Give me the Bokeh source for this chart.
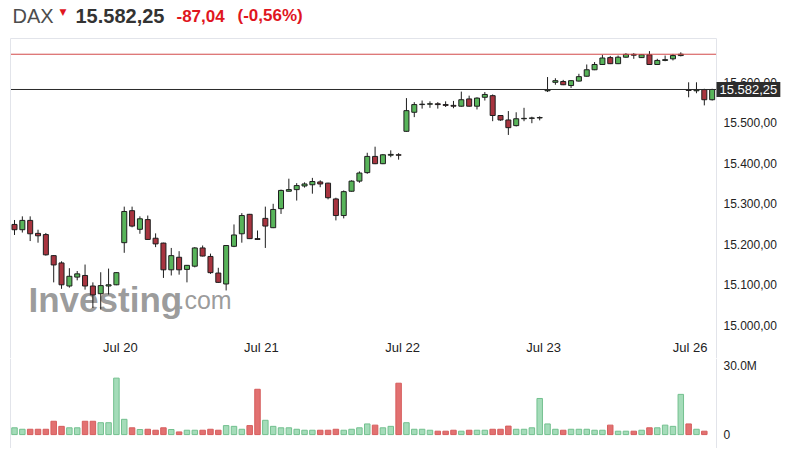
from bokeh.plotting import figure
from bokeh.models import Range1d, FixedTicker, Label, ColumnDataSource, LinearAxis
from bokeh.layouts import column
from bokeh.embed import file_html
from bokeh.resources import INLINE

# ---------------- data (30-minute DAX candles) ----------------
opens = [15249, 15236, 15259, 15227, 15224, 15172, 15154, 15097, 15119, 15123,
         15097, 15078, 15097, 15100, 15204, 15283, 15237, 15261, 15215, 15203,
         15137, 15168, 15138, 15146, 15191, 15170, 15129, 15102, 15195, 15226,
         15274, 15214, 15264, 15241, 15288, 15331, 15335, 15344, 15347, 15354,
         15351, 15312, 15271, 15331, 15356, 15377, 15417, 15399, 15420, 15421,
         15479, 15526, 15545, 15546, 15547, 15545, 15543, 15541, 15559, 15541,
         15563, 15567, 15518, 15507, 15493, 15510, 15511, 15512, 15579, 15600,
         15602, 15592, 15603, 15615, 15631, 15644, 15661, 15646, 15662, 15669,
         15661, 15668, 15644, 15654, 15658, 15666, 15581, 15579, 15582, 15557]
highs = [15260, 15269, 15269, 15236, 15228, 15173, 15158, 15141, 15134, 15150,
         15106, 15131, 15140, 15131, 15293, 15293, 15269, 15271, 15227, 15204,
         15191, 15183, 15149, 15193, 15197, 15177, 15142, 15198, 15249, 15277,
         15275, 15234, 15293, 15300, 15335, 15362, 15351, 15353, 15364, 15358,
         15352, 15315, 15333, 15358, 15380, 15426, 15441, 15423, 15432, 15425,
         15561, 15551, 15555, 15553, 15551, 15553, 15554, 15577, 15567, 15563,
         15576, 15570, 15519, 15529, 15526, 15537, 15515, 15516, 15613, 15610,
         15606, 15605, 15621, 15644, 15650, 15668, 15665, 15666, 15672, 15672,
         15669, 15677, 15658, 15666, 15670, 15674, 15600, 15600, 15584, 15584]
lows = [15223, 15229, 15208, 15204, 15172, 15106, 15090, 15093, 15111, 15088,
        15043, 15039, 15076, 15099, 15179, 15242, 15226, 15211, 15193, 15117,
        15123, 15125, 15106, 15143, 15170, 15127, 15105, 15086, 15193, 15204,
        15213, 15211, 15191, 15240, 15275, 15331, 15308, 15340, 15325, 15341,
        15311, 15259, 15264, 15330, 15352, 15374, 15398, 15398, 15415, 15409,
        15478, 15514, 15535, 15537, 15535, 15539, 15536, 15540, 15540, 15533,
        15555, 15504, 15505, 15470, 15491, 15504, 15499, 15506, 15576, 15594,
        15593, 15586, 15602, 15614, 15630, 15643, 15645, 15645, 15661, 15658,
        15660, 15643, 15643, 15652, 15654, 15664, 15563, 15573, 15543, 15555]
closes = [15236, 15259, 15226, 15221, 15174, 15149, 15100, 15121, 15127, 15097,
          15075, 15098, 15100, 15130, 15281, 15245, 15263, 15212, 15201, 15137,
          15172, 15137, 15148, 15191, 15171, 15130, 15106, 15197, 15223, 15271,
          15214, 15212, 15245, 15286, 15333, 15335, 15345, 15349, 15355, 15349,
          15315, 15271, 15330, 15356, 15376, 15417, 15399, 15421, 15422, 15420,
          15530, 15545, 15546, 15547, 15545, 15543, 15541, 15557, 15541, 15561,
          15570, 15518, 15507, 15488, 15510, 15511, 15512, 15513, 15581, 15604,
          15594, 15604, 15614, 15631, 15644, 15660, 15646, 15662, 15669, 15667,
          15668, 15644, 15654, 15656, 15666, 15669.29, 15580, 15581, 15557, 15582.25]
# volume in millions (the last, still-open candle shows no bar)
volumes = [2.8, 2.2, 2.2, 2.2, 2.2, 5.5, 3.4, 2.8, 2.8, 5.5,
           5.5, 4.9, 4.9, 23.3, 6.3, 2.8, 2.1, 2.2, 1.8, 2.8,
           2.1, 1.1, 1.8, 1.8, 1.8, 2.2, 1.8, 3.7, 3.4, 2.2,
           3.7, 18.7, 5.9, 3.4, 2.8, 2.8, 2.2, 1.8, 1.8, 1.8,
           1.8, 2.2, 1.8, 2.2, 2.8, 4.4, 3.9, 2.8, 3.4, 21.2,
           4.9, 2.2, 2.2, 1.8, 1.4, 1.4, 1.8, 1.4, 1.8, 1.8,
           1.8, 2.2, 2.2, 3.5, 2.2, 2.2, 2.8, 14.9, 4.4, 2.2,
           1.8, 2.2, 2.2, 2.2, 1.8, 1.8, 3.9, 1.4, 1.4, 1.4,
           1.8, 2.8, 2.8, 3.9, 3.4, 16.6, 4.4, 2.2, 1.4]
close_before_window = 15230
last_price = 15582.25
prev_close = 15669.29

date_ticks = [13.5, 31.5, 49.5, 67.5, 86.2]
date_labels = ["Jul 20", "Jul 21", "Jul 22", "Jul 23", "Jul 26"]
price_ticks = [15000, 15100, 15200, 15300, 15400, 15500, 15600]
price_tick_labels = ["15.000,00", "15.100,00", "15.200,00", "15.300,00",
                     "15.400,00", "15.500,00", "15.600,00"]
vol_ticks = [0, 30]
vol_tick_labels = ["0", "30.0M"]

header_name = "DAX"
header_price = "15.582,25"
header_change = "-87,04"
header_pct = "(-0,56%)"
last_label = "15.582,25"

# ---------------- layout / style constants ----------------
FONT = "Liberation Sans"
UP_FILL, DN_FILL, EDGE = "#58b45a", "#a8343f", "#1e1e1e"
VUP_FILL, VUP_LINE = "#a4dcb9", "#73c08f"
VDN_FILL, VDN_LINE = "#e27171", "#d65d5d"
AXIS_GRAY = "#e2e4ea"
TXT = "#222222"

X_START, X_END = -1.786, 100.27      # whole canvas width in candle units
AXIS_X = 89.55                       # price / volume axis line
BORDER_X = -0.51                     # left chart border
P_START, P_END = 14918.0, 15802.0    # price panel canvas (0..358 px)
P_TOP = 15708.1                      # top chart border
DATE_AXIS_Y = 14972.3
V_START, V_END = -5.74, 31.4         # volume panel canvas (358..448 px)

n = len(opens)
xs = list(range(n))
up = [c >= o for o, c in zip(opens, closes)]
csrc = ColumnDataSource(dict(
    x=xs, high=highs, low=lows,
    top=[max(o, c) for o, c in zip(opens, closes)],
    bottom=[min(o, c) for o, c in zip(opens, closes)],
    fill=[UP_FILL if u else DN_FILL for u in up],
))
prevs = [close_before_window] + closes[:-1]
vup = [closes[i] >= prevs[i] for i in range(len(volumes))]
vsrc = ColumnDataSource(dict(
    x=xs[:len(volumes)], v=volumes,
    fill=[VUP_FILL if u else VDN_FILL for u in vup],
    line=[VUP_LINE if u else VDN_LINE for u in vup],
))

xr = Range1d(X_START, X_END)


def style_axis(ax, size="12px"):
    ax.major_tick_line_color = None
    ax.minor_tick_line_color = None
    ax.major_tick_out = 0
    ax.major_tick_in = 0
    ax.minor_tick_out = 0
    ax.major_label_text_font = FONT
    ax.major_label_text_font_size = size
    ax.major_label_text_color = TXT


def border_axis(loc, bounds):
    ax = LinearAxis(fixed_location=loc, ticker=FixedTicker(ticks=[]), bounds=bounds,
                    axis_line_color=AXIS_GRAY)
    style_axis(ax)
    return ax


# ---------------- price panel ----------------
p = figure(width=800, height=358, x_range=xr, y_range=Range1d(P_START, P_END),
           output_backend="svg", toolbar_location=None,
           x_axis_location=None, y_axis_location=None,
           min_border_left=0, min_border_right=0, min_border_top=0, min_border_bottom=0)
p.outline_line_color = None
p.grid.visible = False

# watermark (under the candles)
p.add_layout(Label(x=28, y=59, x_units="screen", y_units="screen", text="Investing",
                   text_font=FONT, text_font_style="bold", text_font_size="35px",
                   text_baseline="alphabetic",
                   text_color="#8a8a8a", text_alpha=0.85, level="underlay"))
p.add_layout(Label(x=177, y=59, x_units="screen", y_units="screen", text=".com",
                   text_font=FONT, text_font_size="25px", text_baseline="alphabetic",
                   text_color="#8a8a8a", text_alpha=0.85, level="underlay"))

p.segment(x0="x", y0="low", x1="x", y1="high", source=csrc, line_color=EDGE, line_width=1)
p.vbar(x="x", width=0.64, top="top", bottom="bottom", source=csrc,
       fill_color="fill", line_color=EDGE, line_width=1)

# previous close (red) and last price (black) lines
p.segment(x0=[BORDER_X], x1=[AXIS_X], y0=[prev_close], y1=[prev_close],
          line_color="#d24a4a", line_width=1)
p.segment(x0=[BORDER_X], x1=[AXIS_X], y0=[last_price], y1=[last_price],
          line_color="#2a2a2a", line_width=1)

p.add_layout(border_axis(BORDER_X, (P_START, P_TOP)), "left")
p.add_layout(border_axis(P_TOP, (BORDER_X, AXIS_X)), "above")

ya = LinearAxis(fixed_location=AXIS_X, ticker=FixedTicker(ticks=price_ticks),
                bounds=(P_START, P_TOP), axis_line_color=AXIS_GRAY)
ya.major_label_overrides = dict(zip(price_ticks, price_tick_labels))
style_axis(ya)
ya.major_label_standoff = 7
p.add_layout(ya, "right")

xa = LinearAxis(fixed_location=DATE_AXIS_Y, ticker=FixedTicker(ticks=date_ticks),
                axis_line_color=None)
xa.major_label_overrides = dict(zip(date_ticks, date_labels))
style_axis(xa, "13px")
xa.major_label_standoff = 3
p.add_layout(xa, "below")

# last price box on the axis
p.add_layout(Label(x=716, y=last_price, x_units="screen", y_units="data", text=last_label,
                   text_font=FONT, text_font_size="13px", text_color="white",
                   text_baseline="middle", background_fill_color="#2d2d2d", padding=3))

# header
HY = 343
p.add_layout(Label(x=12, y=HY, x_units="screen", y_units="screen", text=header_name,
                   text_font=FONT, text_font_size="20px", text_color="#4d4d4d",
                   text_baseline="alphabetic"))
p.add_layout(Label(x=59, y=347, x_units="screen", y_units="screen", text="▼",
                   text_font="DejaVu Sans", text_font_size="9px", text_color="#e0161e",
                   text_baseline="alphabetic"))
p.add_layout(Label(x=75, y=HY, x_units="screen", y_units="screen", text=header_price,
                   text_font=FONT, text_font_style="bold", text_font_size="20px",
                   text_color="#333333", text_baseline="alphabetic"))
p.add_layout(Label(x=176, y=HY, x_units="screen", y_units="screen", text=header_change,
                   text_font=FONT, text_font_style="bold", text_font_size="17px",
                   text_color="#e0161e", text_baseline="alphabetic"))
p.add_layout(Label(x=237, y=HY, x_units="screen", y_units="screen", text=header_pct,
                   text_font=FONT, text_font_style="bold", text_font_size="17px",
                   text_color="#e0161e", text_baseline="alphabetic"))

# ---------------- volume panel ----------------
q = figure(width=800, height=90, x_range=xr, y_range=Range1d(V_START, V_END),
           output_backend="svg", toolbar_location=None,
           x_axis_location=None, y_axis_location=None,
           min_border_left=0, min_border_right=0, min_border_top=0, min_border_bottom=0)
q.outline_line_color = None
q.grid.visible = False
q.vbar(x="x", width=0.7, top="v", bottom=0, source=vsrc, fill_color="fill",
       line_color="line", line_width=1)
q.add_layout(border_axis(BORDER_X, (V_START, V_END)), "left")
qa = LinearAxis(fixed_location=AXIS_X, ticker=FixedTicker(ticks=vol_ticks),
                axis_line_color=AXIS_GRAY)
qa.major_label_overrides = dict(zip(vol_ticks, vol_tick_labels))
style_axis(qa)
qa.major_label_standoff = 7
q.add_layout(qa, "right")

layout = column(p, q, spacing=0)
open("out.html", "w").write(file_html(layout, INLINE))
